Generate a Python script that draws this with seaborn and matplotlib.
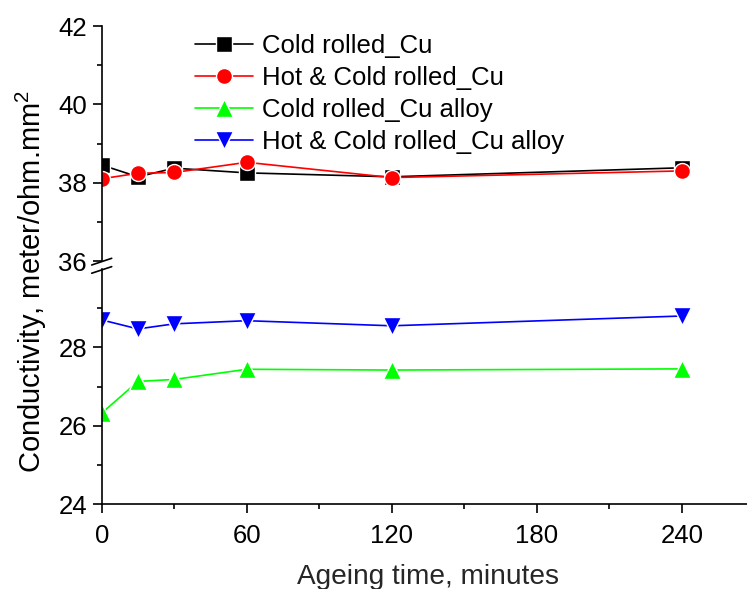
import numpy as np
import pandas as pd
import matplotlib
matplotlib.use('Agg')
import matplotlib.pyplot as plt
import seaborn as sns
from matplotlib.ticker import MultipleLocator, FixedLocator

sns.set_style('ticks')
plt.rcParams['font.family'] = ['Liberation Sans', 'DejaVu Sans']
plt.rcParams['mathtext.fontset'] = 'custom'
plt.rcParams['mathtext.rm'] = 'Liberation Sans'
plt.rcParams['mathtext.it'] = 'Liberation Sans'
plt.rcParams['mathtext.bf'] = 'Liberation Sans'
plt.rcParams['text.color'] = 'black'
plt.rcParams['xtick.color'] = 'black'
plt.rcParams['ytick.color'] = 'black'

# ageing time (minutes) and conductivity values
ageing_time = [0, 15, 30, 60, 120, 240]
cold_cu = [38.45, 38.15, 38.37, 38.25, 38.15, 38.38]
hot_cold_cu = [38.1, 38.24, 38.26, 38.52, 38.13, 38.3]
cold_alloy = [26.32, 27.13, 27.18, 27.44, 27.42, 27.45]
hot_cold_alloy = [28.7, 28.47, 28.6, 28.68, 28.55, 28.8]

W, H = 747, 589
fig = plt.figure(figsize=(W / 100, H / 100), dpi=100)

x0 = 101.7
ax_top = fig.add_axes([x0 / W, 1 - 261 / H, 1 - x0 / W, 235 / H])
ax_bot = fig.add_axes([x0 / W, 1 - 504 / H, 1 - x0 / W, 235 / H])

sq = dict(linewidth=1.2, markersize=11.5, markeredgecolor='white', markeredgewidth=1.0)
tri = dict(linewidth=1.2, markersize=13.5, markeredgecolor='white', markeredgewidth=1.0)

sns.lineplot(x=ageing_time, y=cold_cu, ax=ax_top, color='black', marker='s',
             label='Cold rolled_Cu', **sq)
sns.lineplot(x=ageing_time, y=hot_cold_cu, ax=ax_top, color='red', marker='o',
             label='Hot & Cold rolled_Cu', **sq)
sns.lineplot(x=ageing_time, y=cold_alloy, ax=ax_bot, color='#00ff00', marker='^',
             label='Cold rolled_Cu alloy', **tri)
sns.lineplot(x=ageing_time, y=hot_cold_alloy, ax=ax_bot, color='blue', marker='v',
             label='Hot & Cold rolled_Cu alloy', **tri)

xmax = (W - x0) / 2.417
for ax in (ax_top, ax_bot):
    ax.set_xlim(0, xmax)
    ax.set_facecolor('none')
    for s in ('top', 'right'):
        ax.spines[s].set_visible(False)
    for s in ('left', 'bottom'):
        ax.spines[s].set_linewidth(1.2)
        ax.spines[s].set_color('black')
    ax.tick_params(axis='both', which='major', direction='out', length=6.5, width=1.2,
                   labelsize=18.5, pad=4)
    ax.tick_params(axis='both', which='minor', direction='out', length=3.6, width=1.2)
    ax.get_legend().remove()

ax_top.set_ylim(36, 42)
ax_top.yaxis.set_major_locator(MultipleLocator(2))
ax_top.yaxis.set_minor_locator(MultipleLocator(1))
ax_bot.set_ylim(24, 30)
ax_bot.yaxis.set_major_locator(FixedLocator([24, 26, 28]))
ax_bot.yaxis.set_minor_locator(FixedLocator([25, 27, 29]))
ax_top.spines['bottom'].set_visible(False)
ax_top.tick_params(axis='x', which='both', bottom=False, labelbottom=False)

ax_bot.set_xticks([0, 60, 120, 180, 240])
ax_bot.xaxis.set_minor_locator(MultipleLocator(30))
ax_bot.tick_params(axis='x', which='major', pad=8)

# axis break marks
brk = dict(color='black', linewidth=1.2, clip_on=False)
ax_top.plot([-0.0155, 0.0155], [-0.017, 0.0115], transform=ax_top.transAxes, **brk)
ax_bot.plot([-0.0155, 0.0155], [0.982, 1.01], transform=ax_bot.transAxes, **brk)

ax_bot.set_xlabel('Ageing time, minutes', fontsize=20.2, labelpad=11.5)
ax_bot.xaxis.label.set_x(0.5057)
ax_bot.set_ylabel('')
fig.text(0.042, 0.523, 'Conductivity, meter/ohm.mm$^2$', rotation=90,
         ha='center', va='center', fontsize=21)

h1, l1 = ax_top.get_legend_handles_labels()
h2, l2 = ax_bot.get_legend_handles_labels()
fig.legend(h1 + h2, l1 + l2, loc='upper left', bbox_to_anchor=(195 / W, 1 - 34 / H),
           frameon=False, fontsize=18.5, handlelength=2.25, handletextpad=0.35,
           labelspacing=0.31, borderpad=0, borderaxespad=0)

fig.savefig('out.png', dpi=100)
